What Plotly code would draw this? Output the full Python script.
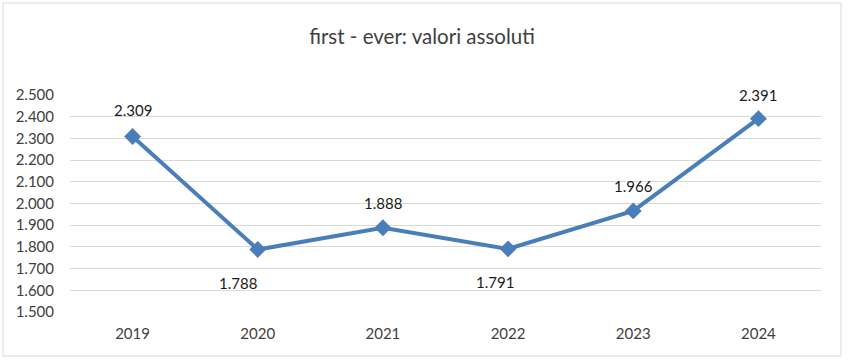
import plotly.graph_objects as go

years = ["2019", "2020", "2021", "2022", "2023", "2024"]
values = [2309, 1788, 1888, 1791, 1966, 2391]
label_shift = [26, -33, 25, -33, 25, 24]
label_xshift = [0, -20, 0, -13, 0, 0]
title_text = "first - ever: valori assoluti"

labels = [f"{v:,}".replace(",", ".") for v in values]

fig = go.Figure()
fig.add_trace(go.Scatter(
    x=years, y=values, mode="lines+markers",
    line=dict(color="#4a7ebb", width=4),
    marker=dict(symbol="diamond", size=13, color="#4a7ebb"),
    cliponaxis=False, showlegend=False,
))

for i, (v, lab, sh, xsh) in enumerate(zip(values, labels, label_shift, label_xshift)):
    fig.add_annotation(x=i, y=v, xref="x", yref="y", text=lab, showarrow=False,
                       yshift=sh, xshift=xsh,
                       font=dict(family="Lato, Open Sans, sans-serif", size=15, color="#1a1a1a"))

fig.update_layout(
    width=856, height=364,
    margin=dict(l=70, r=35, t=95, b=52),
    paper_bgcolor="white", plot_bgcolor="white",
    separators=",.",
    font=dict(family="Lato, Open Sans, sans-serif", color="#404040"),
    title=dict(text=title_text, x=0.493, xanchor="center", y=0.9, yanchor="middle",
               font=dict(size=20.5, color="#404040")),
    xaxis=dict(type="category", range=[-0.5, 5.5], showgrid=False, showline=False,
               ticks="", ticklabelstandoff=11, tickfont=dict(size=15, color="#404040")),
    yaxis=dict(range=[1500, 2500], dtick=100, tickformat=",d", showgrid=True,
               gridcolor="#d9d9d9", gridwidth=1, zeroline=False, showline=False,
               ticks="", ticklabelstandoff=15,
               tickfont=dict(size=15, color="#404040")),
    shapes=[dict(type="rect", xref="paper", yref="paper",
                 x0=-0.0892, x1=1.0266, y0=-0.2028, y1=1.424,
                 line=dict(color="#d9d9d9", width=1), fillcolor="rgba(0,0,0,0)")],
)

fig.write_html("out.html", config={"displayModeBar": False},
               post_script="document.body.style.margin='0';")
